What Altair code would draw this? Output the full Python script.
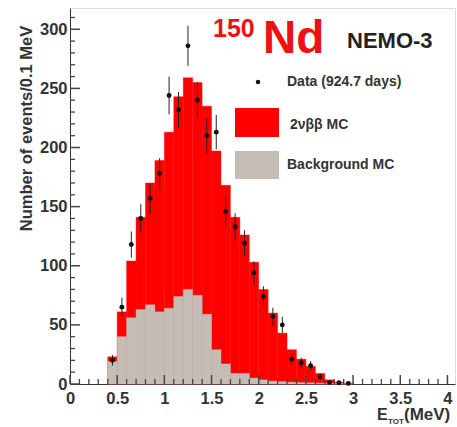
import altair as alt
import pandas as pd

# ---- data ----
bin_lo = [0.4, 0.5, 0.6, 0.7, 0.8, 0.9, 1.0, 1.1, 1.2, 1.3, 1.4, 1.5, 1.6,
          1.7, 1.8, 1.9, 2.0, 2.1, 2.2, 2.3, 2.4, 2.5, 2.6, 2.7, 2.8, 2.9]
total_mc = [23, 61, 104, 141, 170, 189, 213, 243, 259, 255, 235, 197, 168,
            141, 126, 103, 80, 60, 43, 29, 21, 15, 9, 3.5, 1.5, 0.8]
bkg_mc = [19, 40, 56, 63, 67, 61, 64, 74, 80, 75, 59, 29, 17,
          9, 9, 5, 3.5, 2.5, 2, 1.5, 1.2, 1, 0.8, 0.5, 0.3, 0.2]
data_cnt = [20, 65, 118, 140, 157, 178, 244, 232, 286, 240, 210, 213, 146,
            133, 119, 94, 74, 57, 50, 21, 18, 15.5, 6, 1.2, 1, 0.5]
data_err = [4.5, 8, 11, 12, 12.5, 13, 16, 15, 17, 15.5, 14.5, 14.5, 12,
            11.5, 11, 9.7, 8.6, 7.5, 7, 4.6, 4.2, 3.9, 2.4, 1.1, 1, 0.7]

x_major = [0, 0.5, 1, 1.5, 2, 2.5, 3, 3.5, 4]
x_minor = [round(i * 0.1, 1) for i in range(0, 41) if i % 5 != 0]
y_major = [0, 50, 100, 150, 200, 250, 300]
y_minor = [v for v in range(10, 320, 10) if v % 50 != 0]

BW = 0.1
W, H = 385, 376
FONT = "Liberation Sans"
AXC = "#333333"
TKC = "#444444"

hist = pd.DataFrame({
    "lo": bin_lo,
    "hi": [round(v + BW, 2) for v in bin_lo],
    "total": total_mc,
    "bkg": bkg_mc,
})
pts = pd.DataFrame({
    "c": [round(v + BW / 2, 3) for v in bin_lo],
    "n": data_cnt,
    "lo_e": [n - e for n, e in zip(data_cnt, data_err)],
    "hi_e": [n + e for n, e in zip(data_cnt, data_err)],
})

xs = alt.Scale(domain=[0, 4.08], nice=False, zero=False)
ys = alt.Scale(domain=[0, 318], nice=False)

red = alt.Chart(hist).mark_rect(color="#ff0000", stroke="#ff0000", strokeWidth=0.4).encode(
    x=alt.X("lo:Q", scale=xs, axis=alt.Axis(
        values=x_major, format="~g", grid=False, ticks=False, title=None,
        labelFont=FONT, labelFontWeight="bold", labelFontSize=16.5, labelColor=AXC,
        labelPadding=6, domainColor=AXC, labelFlush=False)),
    x2="hi:Q",
    y=alt.Y("total:Q", scale=ys, axis=alt.Axis(
        values=y_major, format="d", grid=False, ticks=False,
        title="Number of events/0.1 MeV", titleFont=FONT, titleFontWeight="bold",
        titleFontSize=16.5, titleColor=AXC, titleAngle=270, titleX=-44, titleY=120,
        titleAlign="center", titleBaseline="middle",
        labelFont=FONT, labelFontWeight="bold", labelFontSize=16.5, labelColor=AXC,
        labelPadding=3, domainColor=AXC, labelFlush=False)),
    y2=alt.datum(0),
)

gray = alt.Chart(hist).mark_rect(color="#c4bdb5", stroke="#c4bdb5", strokeWidth=0.4).encode(
    x=alt.X("lo:Q", scale=xs), x2="hi:Q",
    y=alt.Y("bkg:Q", scale=ys), y2=alt.datum(0),
)

ybar = alt.Chart(pts).mark_rule(color="#222222", strokeWidth=1).encode(
    x=alt.X("c:Q", scale=xs), y=alt.Y("lo_e:Q", scale=ys), y2="hi_e:Q",
)
dots = alt.Chart(pts).mark_circle(color="#111111", size=24, opacity=1).encode(
    x=alt.X("c:Q", scale=xs), y=alt.Y("n:Q", scale=ys),
)

ytick_major = alt.Chart(pd.DataFrame({"ymaj": y_major})).mark_rule(
    color=TKC, strokeWidth=1.5).encode(
    y=alt.Y("ymaj:Q", scale=ys), x=alt.value(0), x2=alt.value(10))
ytick_minor = alt.Chart(pd.DataFrame({"ymin": y_minor})).mark_rule(
    color=TKC, strokeWidth=1.3).encode(
    y=alt.Y("ymin:Q", scale=ys), x=alt.value(0), x2=alt.value(5))
xtick_major = alt.Chart(pd.DataFrame({"xmaj": x_major})).mark_rule(
    color=TKC, strokeWidth=1.5).encode(
    x=alt.X("xmaj:Q", scale=xs), y=alt.value(H), y2=alt.value(H - 9))
xtick_minor = alt.Chart(pd.DataFrame({"xmin": x_minor})).mark_rule(
    color=TKC, strokeWidth=1.3).encode(
    x=alt.X("xmin:Q", scale=xs), y=alt.value(H), y2=alt.value(H - 5))


def label(txt, x, y, size, color="#222222", align="left", baseline="alphabetic", font=FONT):
    return alt.Chart(pd.DataFrame({"t": [txt]})).mark_text(
        font=font, fontWeight="bold", fontSize=size, color=color,
        align=align, baseline=baseline).encode(
        text="t:N", x=alt.value(x), y=alt.value(y))


legend_red = alt.Chart(pd.DataFrame({"k": ["sig"]})).mark_rect(color="#ff0000").encode(
    x=alt.value(165), x2=alt.value(209), y=alt.value(100), y2=alt.value(129))
legend_gray = alt.Chart(pd.DataFrame({"k": ["bkg"]})).mark_rect(color="#c4bdb5").encode(
    x=alt.value(165), x2=alt.value(209), y=alt.value(143), y2=alt.value(171))
legend_dot = alt.Chart(pd.DataFrame({"k": ["data"]})).mark_circle(color="#111111", size=20, opacity=1).encode(
    x=alt.value(188), y=alt.value(74))

texts = [
    label("150", 143, 29, 25, color="#ee1111"),
    label("Nd", 193, 45, 46, color="#ee1111"),
    label("NEMO-3", 277, 40, 22, color="#222222"),
    label("Data (924.7 days)", 217, 74, 14, color="#333333", baseline="middle"),
    label("2\u03bd\u03b2\u03b2 MC", 220, 117, 14, color="#333333", baseline="middle"),
    label("Background MC", 217, 157, 14, color="#333333", baseline="middle"),
    label("E", 307, 412, 16, color="#333333"),
    label("TOT", 318, 416, 8, color="#333333"),
    label("(MeV)", 334, 412, 17, color="#333333"),
]

chart = alt.layer(
    red, gray, ybar, dots,
    ytick_major, ytick_minor, xtick_major, xtick_minor,
    legend_red, legend_gray, legend_dot,
    *texts,
).properties(
    width=W, height=H,
    padding={"left": 70, "top": 8, "right": 2, "bottom": 43},
    autosize=alt.AutoSizeParams(type="none"),
).configure_view(stroke="#666666", strokeWidth=1).configure(background="white")

chart.save("out.html", embed_options={"renderer": "svg", "actions": False})
